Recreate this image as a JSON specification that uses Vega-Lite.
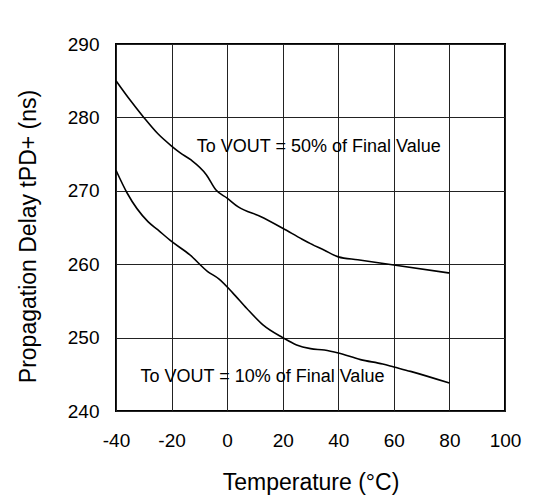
{
  "$schema": "https://vega.github.io/schema/vega-lite/v6.json",
  "width": 389,
  "height": 367,
  "autosize": {"type": "none"},
  "padding": {"left": 116, "top": 44, "right": 31, "bottom": 87},
  "background": "white",
  "config": {
    "font": "Liberation Sans",
    "view": {"stroke": "#000000", "strokeWidth": 2}
  },
  "datasets": {
    "curves": [
      {"series": "50%", "temp": -40, "delay": 285.0},
      {"series": "50%", "temp": -35, "delay": 282.4},
      {"series": "50%", "temp": -30, "delay": 280.0},
      {"series": "50%", "temp": -25, "delay": 277.8},
      {"series": "50%", "temp": -20, "delay": 276.1},
      {"series": "50%", "temp": -17, "delay": 275.2},
      {"series": "50%", "temp": -13, "delay": 274.2},
      {"series": "50%", "temp": -7.5, "delay": 272.2},
      {"series": "50%", "temp": -4, "delay": 270.1},
      {"series": "50%", "temp": 0, "delay": 269.0},
      {"series": "50%", "temp": 4, "delay": 267.8},
      {"series": "50%", "temp": 12, "delay": 266.5},
      {"series": "50%", "temp": 20, "delay": 264.9},
      {"series": "50%", "temp": 27, "delay": 263.4},
      {"series": "50%", "temp": 30, "delay": 262.8},
      {"series": "50%", "temp": 35, "delay": 261.9},
      {"series": "50%", "temp": 40, "delay": 261.0},
      {"series": "50%", "temp": 47, "delay": 260.6},
      {"series": "50%", "temp": 60, "delay": 259.9},
      {"series": "50%", "temp": 80, "delay": 258.8},
      {"series": "10%", "temp": -40, "delay": 272.8},
      {"series": "10%", "temp": -36, "delay": 269.7},
      {"series": "10%", "temp": -28.5, "delay": 265.8},
      {"series": "10%", "temp": -25, "delay": 264.7},
      {"series": "10%", "temp": -20, "delay": 263.1},
      {"series": "10%", "temp": -13.5, "delay": 261.3},
      {"series": "10%", "temp": -7, "delay": 259.0},
      {"series": "10%", "temp": -3, "delay": 258.0},
      {"series": "10%", "temp": 2, "delay": 256.1},
      {"series": "10%", "temp": 7, "delay": 254.0},
      {"series": "10%", "temp": 13, "delay": 251.7},
      {"series": "10%", "temp": 20, "delay": 250.0},
      {"series": "10%", "temp": 25, "delay": 249.0},
      {"series": "10%", "temp": 30, "delay": 248.5},
      {"series": "10%", "temp": 35, "delay": 248.3},
      {"series": "10%", "temp": 40, "delay": 247.9},
      {"series": "10%", "temp": 48, "delay": 247.0},
      {"series": "10%", "temp": 56, "delay": 246.4},
      {"series": "10%", "temp": 60, "delay": 246.0},
      {"series": "10%", "temp": 66, "delay": 245.4},
      {"series": "10%", "temp": 80, "delay": 243.8}
    ],
    "labels": [
      {"label": "To VOUT = 50% of Final Value", "temp": 33, "delay": 276},
      {"label": "To VOUT = 10% of Final Value", "temp": 12.7, "delay": 244.6}
    ]
  },
  "layer": [
    {
      "data": {"name": "curves"},
      "mark": {"type": "line", "color": "#000000", "strokeWidth": 1.6, "interpolate": "monotone"},
      "encoding": {
        "x": {
          "field": "temp",
          "type": "quantitative",
          "scale": {"domain": [-40, 100], "nice": false, "zero": false},
          "axis": {
            "values": [-40, -20, 0, 20, 40, 60, 80, 100],
            "labelExpr": "'' + datum.value",
            "grid": true,
            "gridColor": "#222222",
            "gridWidth": 1,
            "gridOpacity": 1,
            "ticks": false,
            "domain": false,
            "labelFontSize": 19,
            "labelColor": "#000000",
            "labelPadding": 20,
            "labelFlush": false,
            "labelOverlap": false,
            "labelBound": false,
            "title": "Temperature (°C)",
            "titleFontSize": 23,
            "titleFontWeight": "normal",
            "titleColor": "#000000",
            "titleBaseline": "middle",
            "titleY": 71
          }
        },
        "y": {
          "field": "delay",
          "type": "quantitative",
          "scale": {"domain": [240, 290], "nice": false, "zero": false},
          "axis": {
            "values": [240, 250, 260, 270, 280, 290],
            "labelExpr": "'' + datum.value",
            "grid": true,
            "gridColor": "#222222",
            "gridWidth": 1,
            "gridOpacity": 1,
            "ticks": false,
            "domain": false,
            "labelFontSize": 19,
            "labelColor": "#000000",
            "labelPadding": 17,
            "labelOverlap": false,
            "labelBound": false,
            "title": "Propagation Delay tPD+ (ns)",
            "titleFontSize": 23,
            "titleFontWeight": "normal",
            "titleColor": "#000000",
            "titleBaseline": "middle",
            "titleX": -88,
            "titleY": 192
          }
        },
        "detail": {"field": "series"}
      }
    },
    {
      "data": {"name": "labels"},
      "mark": {"type": "text", "fontSize": 18, "color": "#000000", "align": "center", "baseline": "middle"},
      "encoding": {
        "x": {"field": "temp", "type": "quantitative"},
        "y": {"field": "delay", "type": "quantitative"},
        "text": {"field": "label"}
      }
    }
  ]
}
